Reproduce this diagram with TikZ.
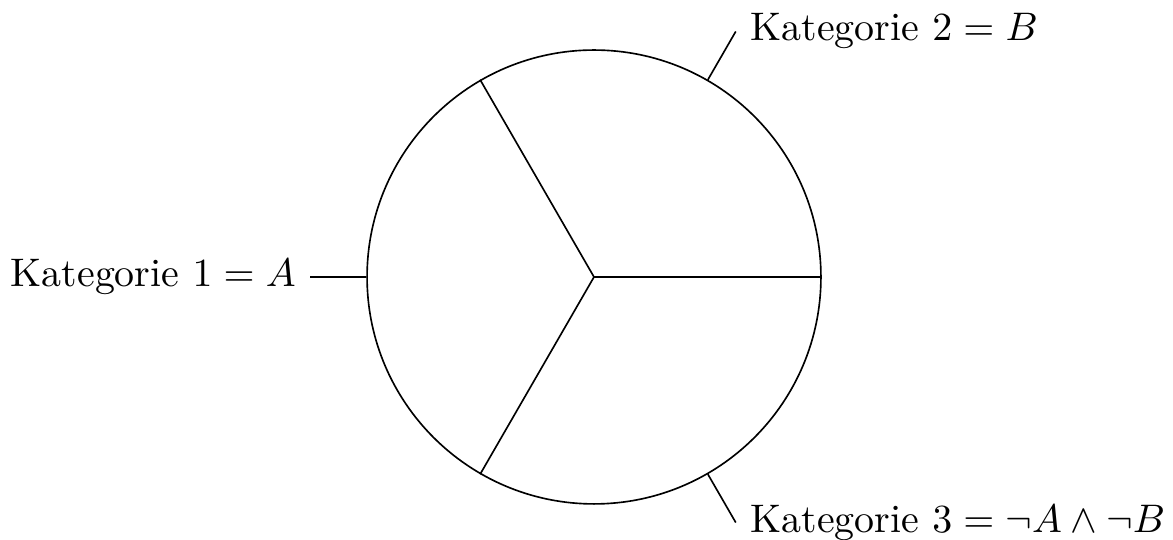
\documentclass[tikz,border=0pt]{standalone}
\usetikzlibrary{calc}
\begin{document}
\begin{tikzpicture}[x=0.2439pt,y=0.2439pt,
  part/.style={line width=0.4pt},
  lbl/.style={inner sep=3.5pt,scale=0.973}]
\useasboundingbox (0,0) rectangle (1173,540);
\node[circle,draw,part,minimum size=110.7pt,inner sep=0pt] (C) at (594,263) {};
\draw[part] (C.center) -- (C.0);
\draw[part] (C.center) -- (C.120);
\draw[part] (C.center) -- (C.240);
\coordinate (t1) at ($(C.180)+(180:13.6pt)$);
\coordinate (t2) at ($(C.60)+(60:13.6pt)$);
\coordinate (t3) at ($(C.-60)+(-60:13.6pt)$);
\draw[part] (C.180) -- (t1);
\draw[part] (C.60) -- (t2);
\draw[part] (C.-60) -- (t3);
\node[lbl,anchor=east] (L1) at (t1) {Kategorie $1=A$};
\node[lbl,anchor=west] (L2) at (t2) {Kategorie $2=B$};
\node[lbl,anchor=west] (L3) at (t3) {Kategorie $3=\neg A\wedge\neg B$};
\end{tikzpicture}
\end{document}
